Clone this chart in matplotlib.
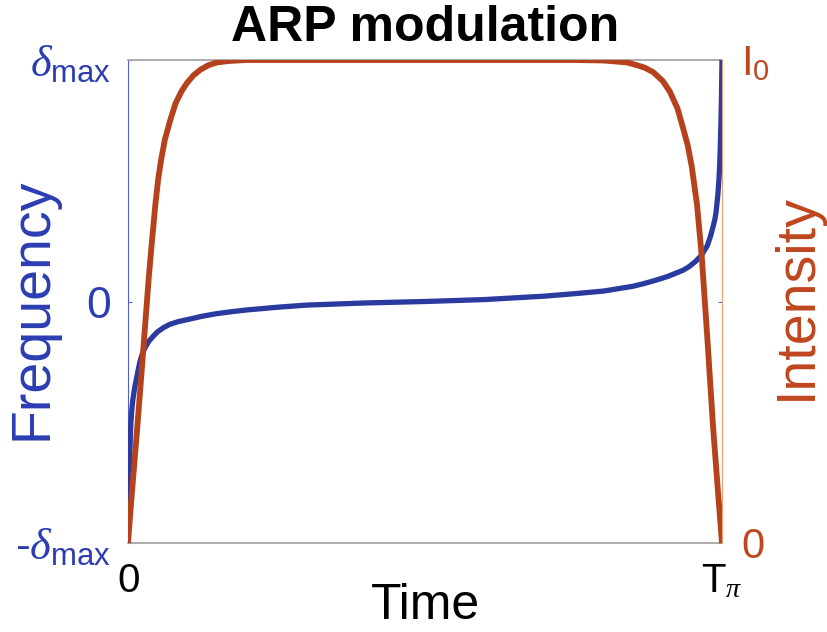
import matplotlib
matplotlib.use("Agg")
import matplotlib.pyplot as plt

plt.rcParams['font.family'] = ['Liberation Sans', 'DejaVu Sans']
plt.rcParams['mathtext.fontset'] = 'custom'
plt.rcParams['mathtext.rm'] = 'Liberation Sans'
plt.rcParams['mathtext.it'] = 'Liberation Serif:italic'
plt.rcParams['mathtext.default'] = 'it'

# ---- data (time normalised to T_pi) ----
freq_t = [0.000, 0.001, 0.002, 0.003, 0.0045, 0.006, 0.008, 0.011, 0.015,
          0.020, 0.025, 0.030, 0.035, 0.042, 0.050, 0.060, 0.070, 0.085,
          0.100, 0.125, 0.150, 0.175, 0.200, 0.250, 0.300, 0.400, 0.500,
          0.600, 0.700, 0.750, 0.800, 0.850, 0.865, 0.880, 0.895, 0.910,
          0.920, 0.935, 0.945, 0.955, 0.965, 0.970, 0.975, 0.980, 0.985,
          0.988, 0.990, 0.993, 0.995, 0.996, 0.997, 0.998, 0.999, 1.000]
freq_v = [-1.00, -0.85, -0.72, -0.63, -0.52, -0.46, -0.41, -0.36, -0.31,
          -0.25, -0.21, -0.185, -0.165, -0.145, -0.125, -0.108, -0.095, -0.083,
          -0.075, -0.061, -0.050, -0.042, -0.035, -0.024, -0.015, -0.006, 0.000,
          0.008, 0.022, 0.032, 0.043, 0.063, 0.072, 0.082, 0.093, 0.105,
          0.115, 0.130, 0.145, 0.165, 0.190, 0.210, 0.230, 0.265, 0.310,
          0.340, 0.370, 0.440, 0.510, 0.560, 0.630, 0.720, 0.830, 1.000]

int_t = [0.000, 0.005, 0.010, 0.015, 0.022, 0.0286, 0.035, 0.040, 0.046,
         0.051, 0.056, 0.062, 0.071, 0.080, 0.090, 0.099, 0.110, 0.122,
         0.135, 0.150, 0.170, 0.200, 0.250, 0.500, 0.750, 0.800, 0.840,
         0.860, 0.870, 0.884, 0.900, 0.912, 0.925, 0.934, 0.942, 0.949,
         0.958, 0.966, 0.975, 0.985, 0.993, 1.000]
int_v = [0.000, 0.080, 0.155, 0.230, 0.340, 0.447, 0.550, 0.620, 0.700,
         0.755, 0.795, 0.835, 0.875, 0.910, 0.935, 0.952, 0.968, 0.980,
         0.989, 0.995, 0.998, 1.000, 1.000, 1.000, 1.000, 0.999, 0.995,
         0.988, 0.984, 0.975, 0.957, 0.935, 0.900, 0.861, 0.825, 0.780,
         0.700, 0.592, 0.430, 0.240, 0.110, 0.000]

freq_ticks = [-1, 0, 1]
freq_labels = [r'-$\delta_{\mathrm{max}}$', r'$\mathrm{0}$', r'$\delta_{\mathrm{max}}$']
int_ticks = [0, 1]
int_labels = [r'$\mathrm{0}$', r'$\mathrm{I}_{\mathrm{0}}$']
time_ticks = [0, 1]
time_labels = [r'$\mathrm{0}$', r'$\mathrm{T}_{\pi}$']

BLUE = '#2b3a9e'
BLUE_TXT = '#2c3db3'
RED = '#b5421d'
RED_TXT = '#bf461f'

W, H = 827, 632
fig = plt.figure(figsize=(W / 100, H / 100), dpi=100)
x0, x1, y0, y1 = 128, 722, 60, 543
ax = fig.add_axes([x0 / W, 1 - y1 / H, (x1 - x0) / W, (y1 - y0) / H])
ax2 = ax.twinx()

ax.plot(freq_t, freq_v, color=BLUE, lw=3.8, solid_joinstyle='round', zorder=3)
ax2.plot(int_t, int_v, color=RED, lw=4.2, solid_joinstyle='round', zorder=2)

ax.set_xlim(0, 1)
ax.set_ylim(-1, 1)
ax2.set_ylim(0, 1)

# spines
for s in ['top', 'bottom']:
    ax.spines[s].set_color('#a0a0a0')
    ax.spines[s].set_linewidth(1.2)
ax.spines['left'].set_color('#5060d0')
ax.spines['left'].set_linewidth(0.8)
ax.spines['right'].set_visible(False)
for s in ['top', 'bottom', 'left']:
    ax2.spines[s].set_visible(False)
ax2.spines['right'].set_color('#f0a070')
ax2.spines['right'].set_linewidth(0.8)

ax.set_xticks(time_ticks)
ax.set_xticklabels(time_labels, fontsize=29, color='black')
ax.tick_params(axis='x', length=0, pad=14)

ax.set_yticks(freq_ticks)
ax.set_yticklabels(freq_labels, fontsize=32, color=BLUE_TXT)
ax.tick_params(axis='y', direction='in', length=3, width=0.8, color='#5060d0',
               right=True, pad=12)

ax2.set_yticks(int_ticks)
ax2.set_yticklabels(int_labels, fontsize=30, color=RED_TXT)
ax2.tick_params(axis='y', length=0, pad=14)

ax.set_xlabel('Time', fontsize=36, color='black', va='top')
ax.xaxis.set_label_coords(0.5, -0.082)
ax.set_ylabel('Frequency', fontsize=40, color=BLUE_TXT, va='center')
ax.yaxis.set_label_coords(-0.16, 0.485)
ax2.set_ylabel('Intensity', fontsize=40, color=RED_TXT, va='center', rotation=90)
ax2.yaxis.set_label_coords(1.126, 0.51)

ax.set_title('ARP modulation', fontsize=36, fontweight='bold', y=1.04, pad=0)

fig.savefig('out.png', dpi=100)
